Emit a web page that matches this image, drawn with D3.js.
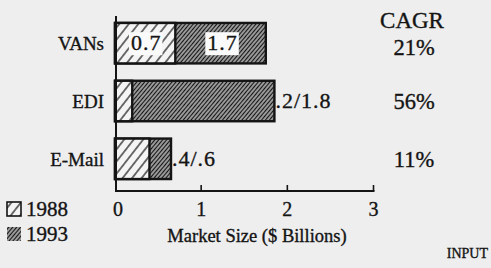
<!DOCTYPE html>
<html><head><meta charset="utf-8">
<script src="https://cdn.jsdelivr.net/npm/d3@7"></script>
<style>body{margin:0;background:#eeeeee;} svg{display:block}</style>
</head><body><svg id="c" width="491" height="268"></svg>
<script>
const categories = ["VANs", "EDI", "E-Mail"];
const values1988 = [0.7, 0.2, 0.4];
const values1993 = [1.75, 1.85, 0.65];
const innerLabels1988 = ["0.7", null, null];
const innerLabels1993 = ["1.7", null, null];
const outsideLabels = [null, ".2/1.8", ".4/.6"];
const cagrValues = ["21%", "56%", "11%"];
const xTicks = [0, 1, 2, 3];
const legendYears = ["1988", "1993"];

const svg = d3.select("#c");
const FONT = "'Liberation Serif', 'Times New Roman', serif";
const INK = "#141414";

const defs = svg.append("defs");
function hatch(id, gap, sw, bg, angle) {
  const p = defs.append("pattern").attr("id", id)
    .attr("patternUnits", "userSpaceOnUse")
    .attr("width", gap).attr("height", gap)
    .attr("patternTransform", `rotate(${angle})`);
  p.append("rect").attr("width", gap).attr("height", gap).attr("fill", bg);
  p.append("line").attr("x1", gap/2).attr("y1", 0).attr("x2", gap/2).attr("y2", gap)
    .attr("stroke", INK).attr("stroke-width", sw);
}
hatch("h88", 7.5, 1.2, "#f4f4f4", 38);
hatch("h93", 3, 1.8, "#f0f0f0", 40);

const x = d3.scaleLinear().domain([0, 3]).range([115, 373.5]);
const y = d3.scaleBand().domain(categories).range([5.6, 196.4]).paddingInner(0.3).paddingOuter(0.3);

const g = svg.append("g");
function txt(sel) {
  return sel.attr("font-family", FONT).attr("fill", INK)
    .attr("stroke", INK).attr("stroke-width", 0.35);
}

// 1993 bars
g.selectAll("rect.b93").data(categories).join("rect").attr("class", "b93")
  .attr("x", x(0)).attr("y", d => y(d))
  .attr("width", (d, i) => x(values1993[i]) - x(0)).attr("height", y.bandwidth())
  .attr("fill", "url(#h93)").attr("stroke", INK).attr("stroke-width", 2.4);
// 1988 bars
g.selectAll("rect.b88").data(categories).join("rect").attr("class", "b88")
  .attr("x", x(0)).attr("y", d => y(d))
  .attr("width", (d, i) => x(values1988[i]) - x(0)).attr("height", y.bandwidth())
  .attr("fill", "url(#h88)").attr("stroke", INK).attr("stroke-width", 2.4);

// inner labels with white backgrounds
function innerLabel(labels, anchorFn) {
  categories.forEach((c, i) => {
    const t = labels[i];
    if (!t) return;
    const cx = anchorFn(i);
    const cy = y(c) + y.bandwidth() / 2;
    const tx = txt(g.append("text")).attr("x", cx).attr("y", cy + 7)
      .attr("text-anchor", "middle")
      .attr("font-size", 22).attr("letter-spacing", 1).text(t);
    const bb = tx.node().getBBox();
    g.insert("rect", () => tx.node())
      .attr("x", bb.x - 2).attr("y", cy - 11).attr("width", bb.width + 3).attr("height", 23)
      .attr("fill", "#fafafa");
  });
}
innerLabel(innerLabels1988, i => (x(0) + x(values1988[i])) / 2 + 1);
innerLabel(innerLabels1993, i => (x(values1988[i]) + x(values1993[i])) / 2 + 2);

// outside labels
txt(g.selectAll("text.out").data(categories).join("text").attr("class", "out"))
  .attr("x", (d, i) => x(values1993[i]) + 1)
  .attr("y", d => y(d) + y.bandwidth() / 2 + 7)
  .attr("font-size", 22).attr("letter-spacing", 1)
  .text((d, i) => outsideLabels[i] || "");

// category labels
txt(g.selectAll("text.cat").data(categories).join("text").attr("class", "cat"))
  .attr("x", 104).attr("y", d => y(d) + y.bandwidth() / 2 + 7)
  .attr("text-anchor", "end").attr("font-size", 19)
  .text(d => d);

// axes
g.append("line").attr("x1", 116).attr("x2", 116).attr("y1", 16).attr("y2", 192)
  .attr("stroke", INK).attr("stroke-width", 2);
g.append("line").attr("x1", 115).attr("x2", x(3) + 1).attr("y1", 191).attr("y2", 191)
  .attr("stroke", INK).attr("stroke-width", 2);
g.selectAll("line.tick").data(xTicks.slice(1)).join("line").attr("class", "tick")
  .attr("x1", d => x(d)).attr("x2", d => x(d)).attr("y1", 185).attr("y2", 191)
  .attr("stroke", INK).attr("stroke-width", 1.6);
txt(g.selectAll("text.tl").data(xTicks).join("text").attr("class", "tl"))
  .attr("x", d => d === 0 ? x(d) + 3 : x(d)).attr("y", 216)
  .attr("text-anchor", "middle").attr("font-size", 20)
  .text(d => d);
txt(g.append("text")).attr("x", 257).attr("y", 242).attr("text-anchor", "middle")
  .attr("font-size", 18.5)
  .text("Market Size ($ Billions)");

// CAGR
txt(g.append("text")).attr("x", 412).attr("y", 28).attr("text-anchor", "middle")
  .attr("font-size", 23).text("CAGR");
txt(g.selectAll("text.cagr").data(categories).join("text").attr("class", "cagr"))
  .attr("x", 414).attr("y", (d, i) => i === 0 ? 55 : y(d) + y.bandwidth() / 2 + 8)
  .attr("text-anchor", "middle").attr("font-size", 22.5)
  .text((d, i) => cagrValues[i]);

// legend
const lg = g.selectAll("g.lg").data(legendYears).join("g").attr("class", "lg")
  .attr("transform", (d, i) => `translate(7,${202 + i * 25})`);
lg.append("rect").attr("width", 14).attr("height", 14)
  .attr("fill", (d, i) => i === 0 ? "url(#h88)" : "url(#h93)")
  .attr("stroke", INK).attr("stroke-width", (d, i) => i === 0 ? 1.6 : 0);
txt(lg.append("text")).attr("x", 19).attr("y", 14)
  .attr("font-size", 21).text(d => d);

txt(g.append("text")).attr("x", 488).attr("y", 258).attr("text-anchor", "end")
  .attr("font-size", 14).text("INPUT");
</script></body></html>
